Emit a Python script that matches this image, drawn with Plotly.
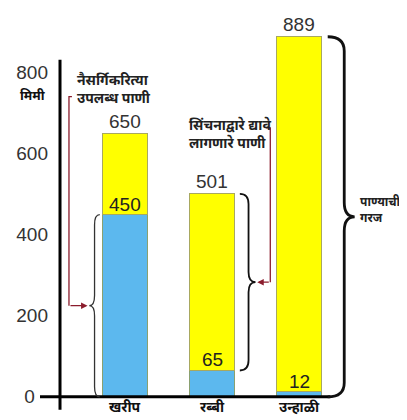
import plotly.graph_objects as go

categories = ["खरीप", "रब्बी", "उन्हाळी"]
natural_water = [450, 65, 12]          # नैसर्गिकरित्या उपलब्ध पाणी (blue)
total_need = [650, 501, 889]           # पाण्याची गरज (total)
irrigation = [t - n for t, n in zip(total_need, natural_water)]  # yellow part
y_ticks = [0, 200, 400, 600, 800]
y_ticktext = ["0\u2002\u2009", "200", "400", "600", "800"]
unit_label = "मिमी"
label_natural = "नैसर्गिकरित्या<br>उपलब्ध पाणी"
label_irrigation = "सिंचनाद्वारे द्यावे<br>लागणारे पाणी"
label_need = "पाण्याची<br>गरज"

DEV = "Noto Sans Devanagari, Lohit Devanagari, FreeSans, Noto Sans, sans-serif"
NUM = "Liberation Sans, Arial, sans-serif"
RED = "#8b1c2c"
BW = 0.52

fig = go.Figure()
fig.add_trace(go.Bar(x=categories, y=natural_water, width=BW,
                     marker=dict(color="#5cb8ee", line=dict(color="#8aa070", width=1)),
                     hoverinfo="skip"))
fig.add_trace(go.Bar(x=categories, y=irrigation, width=BW,
                     marker=dict(color="#ffff00", line=dict(color="#a8a860", width=1)),
                     hoverinfo="skip"))

shapes = []
# axis lines
shapes.append(dict(type="line", xref="x", yref="y", x0=-0.747, x1=-0.747, y0=-32, y1=832,
                   line=dict(color="black", width=3)))
shapes.append(dict(type="line", xref="x", yref="y", x0=-0.977, x1=2.36, y0=0, y1=0,
                   line=dict(color="black", width=3)))


def brace(xe, xs, xt, y0, y1, h):
    ym = (y0 + y1) / 2
    return (f"M {xe},{y1} Q {xs},{y1} {xs},{y1-h} L {xs},{ym+h} Q {xs},{ym} {xt},{ym} "
            f"Q {xs},{ym} {xs},{ym-h} L {xs},{y0+h} Q {xs},{y0} {xe},{y0}")


# खरीप brace (tip left) over natural water
shapes.append(dict(type="path", xref="x", yref="y",
                   path=brace(-0.29, -0.35, -0.41, 0, natural_water[0], 25),
                   line=dict(color="#333", width=1.3)))
# रब्बी brace (tip right) over irrigation part
shapes.append(dict(type="path", xref="x", yref="y",
                   path=brace(1.32, 1.42, 1.50, natural_water[1], total_need[1], 25),
                   line=dict(color="#111", width=1.8)))
# उन्हाळी brace (tip right) over total need
shapes.append(dict(type="path", xref="x", yref="y",
                   path=brace(2.33, 2.52, 2.64, 0, total_need[2], 35),
                   line=dict(color="#111", width=2.8)))
# red leader lines
mid0 = natural_water[0] / 2
mid1 = (natural_water[1] + total_need[1]) / 2
shapes.append(dict(type="path", xref="x", yref="y",
                   path=f"M -0.61,741 L -0.644,741 L -0.644,{mid0}",
                   line=dict(color=RED, width=1.3)))
shapes.append(dict(type="path", xref="x", yref="y",
                   path=f"M 1.62,664 L 1.67,664 L 1.67,{mid1}",
                   line=dict(color=RED, width=1.3)))

ann = []
# arrows
ann.append(dict(x=-0.43, y=mid0, ax=-0.644, ay=mid0, xref="x", yref="y", axref="x", ayref="y",
                text="", showarrow=True, arrowhead=2, arrowsize=1, arrowwidth=1.3, arrowcolor=RED))
ann.append(dict(x=1.52, y=mid1, ax=1.67, ay=mid1, xref="x", yref="y", axref="x", ayref="y",
                text="", showarrow=True, arrowhead=2, arrowsize=1, arrowwidth=1.3, arrowcolor=RED))

# value labels
for i, c in enumerate(categories):
    ann.append(dict(x=i, y=total_need[i], text=str(total_need[i]), showarrow=False,
                    yanchor="bottom", yshift=0, font=dict(family=NUM, size=19, color="#333")))
    ann.append(dict(x=i, y=natural_water[i], text=str(natural_water[i]), showarrow=False,
                    yanchor="bottom", yshift=-2, font=dict(family=NUM, size=19, color="#222")))
    ann.append(dict(x=i, y=-29, text="<b>" + c + "</b>", showarrow=False, yanchor="middle",
                    font=dict(family=DEV, size=14, color="#111")))

# text labels
ann.append(dict(x=-0.015, y=742, xref="paper", yref="y", text="<b>" + unit_label + "</b>",
                showarrow=False, xanchor="center", font=dict(family=DEV, size=13, color="#111")))
ann.append(dict(x=-0.575, y=757, text="<b>" + label_natural + "</b>", showarrow=False,
                xanchor="left", align="left", font=dict(family=DEV, size=14, color="#222")))
ann.append(dict(x=0.71, y=647, text="<b>" + label_irrigation + "</b>", showarrow=False,
                xanchor="left", align="left", font=dict(family=DEV, size=14, color="#222")))
ann.append(dict(x=2.68, y=459, text="<b>" + label_need + "</b>", showarrow=False,
                xanchor="left", align="left", font=dict(family=DEV, size=12, color="#222")))

# page body has an 8px margin, so the figure is 8px smaller and offset accordingly
fig.update_layout(
    barmode="stack", showlegend=False, width=399, height=412,
    margin=dict(l=30, r=21, t=0, b=7, pad=0),
    paper_bgcolor="white", plot_bgcolor="white",
    xaxis=dict(range=[-1, 3], showgrid=False, zeroline=False, showline=False,
               showticklabels=False, ticks="", fixedrange=True),
    yaxis=dict(range=[-40, 960], anchor="free", position=(60 - 38) / 348,
               tickvals=y_ticks, ticktext=y_ticktext,
               showgrid=False, zeroline=False, showline=False, ticks="",
               ticklabelstandoff=12, tickfont=dict(family=NUM, size=19, color="#333"),
               fixedrange=True),
    shapes=shapes, annotations=ann,
)

fig.write_html("out.html")
